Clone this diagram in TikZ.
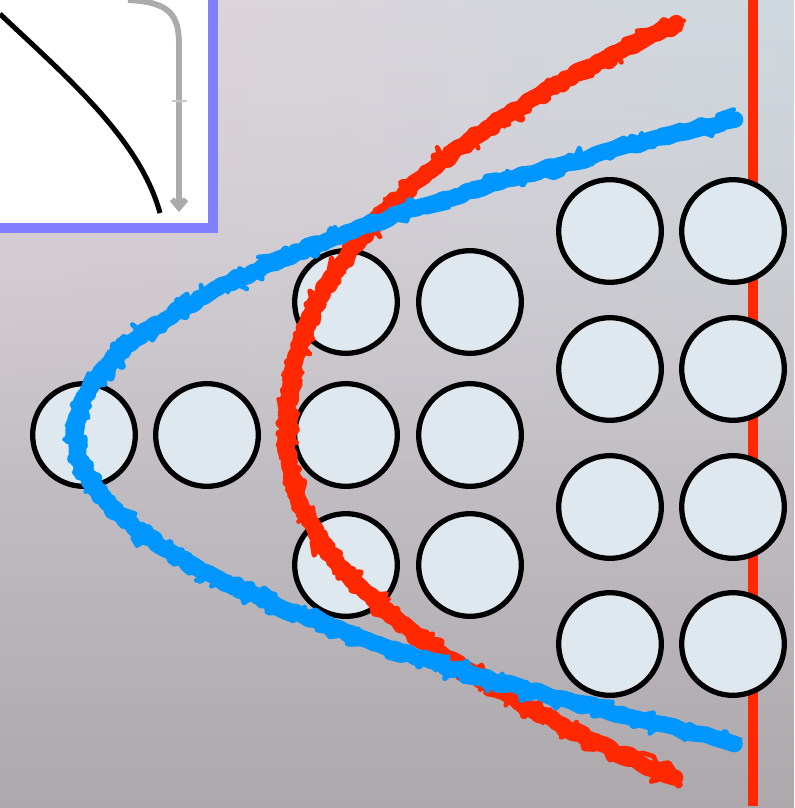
\documentclass[tikz,border=0pt]{standalone}
\usetikzlibrary{arrows.meta, fadings}
\definecolor{bgtop}{RGB}{222,219,226}
\definecolor{bgmid}{RGB}{200,188,190}
\definecolor{bgbot}{RGB}{172,168,172}
\definecolor{tintpink}{RGB}{226,206,210}
\definecolor{tintblue}{RGB}{196,214,220}
\definecolor{ballfill}{RGB}{223,231,239}
\definecolor{frontred}{RGB}{255,40,0}
\definecolor{frontblue}{RGB}{0,150,255}
\definecolor{framebl}{RGB}{128,128,255}
\pgfmathsetseed{7}

\tikzset{
  ball/.style={circle, draw=black, line width=4.5pt, fill=ballfill,
    minimum size=30.8mm, inner sep=0pt},
  rough/.style={line cap=round, line join=round}
}

\begin{document}
\begin{tikzpicture}[x=0.3mm, y=-0.3mm]
  % background
  \useasboundingbox (0,0) rectangle (794,808);
  \shade[top color=bgtop, middle color=bgmid, bottom color=bgbot]
    (0,0) rectangle (794,808);
  \shade[left color=tintpink, right color=tintblue, opacity=0.6,
    path fading=south] (0,0) rectangle (794,500);

  % wall
  \draw[frontred, line width=8.5pt] (753,0) -- (753,806);

  % inset
  \begin{scope}
    \draw[framebl, line width=8pt, fill=white] (-20,-20) rectangle (213,228);
    \draw[black, line width=4.3pt] (0,14) .. controls (70,80) and (140,140) .. (160,213);
    \draw[black!33, line width=5pt, -{Straight Barb[length=7pt, width=12pt]}]
      (128,0) .. controls (170,2) and (179,15) .. (179,45) -- (179,212);
    \draw[black!22, line width=2pt] (172,101) -- (187,101);
  \end{scope}

  % beads
  \node[ball] (a1) at (84,435) {};
  \node[ball] (a2) at (207,435) {};
  \foreach \y [count=\i] in {302,435,565} {
    \node[ball] (b\i) at (346,\y) {};
    \node[ball] (c\i) at (470,\y) {};
  }
  \foreach \y [count=\i] in {231,369,507,644} {
    \node[ball] (d\i) at (610,\y) {};
    \node[ball] (e\i) at (733,\y) {};
  }

  % red front
  \foreach \w/\j in {14pt/2, 7pt/8, 4pt/11} {
    \draw[rough, frontred, line width=\w]
      plot[variable=\t, domain=24:778, samples=260]
      ({287 + (\t<440 ? 393*(abs(440-\t)/418+0.0001)^2.3
                      : 391*(abs(\t-440)/340)^2) + \j*rand}, {\t + \j*rand});
  }
  % blue front
  \foreach \w/\j in {14pt/2, 7pt/8, 4pt/11} {
    \draw[rough, frontblue, line width=\w]
      plot[variable=\t, domain=120:743, samples=260]
      ({75 + (\t<435 ? 669*(abs(435-\t)/317)^2
                     : 669*(abs(\t-435)/310)^2) + \j*rand}, {\t + \j*rand});
  }
\end{tikzpicture}
\end{document}
